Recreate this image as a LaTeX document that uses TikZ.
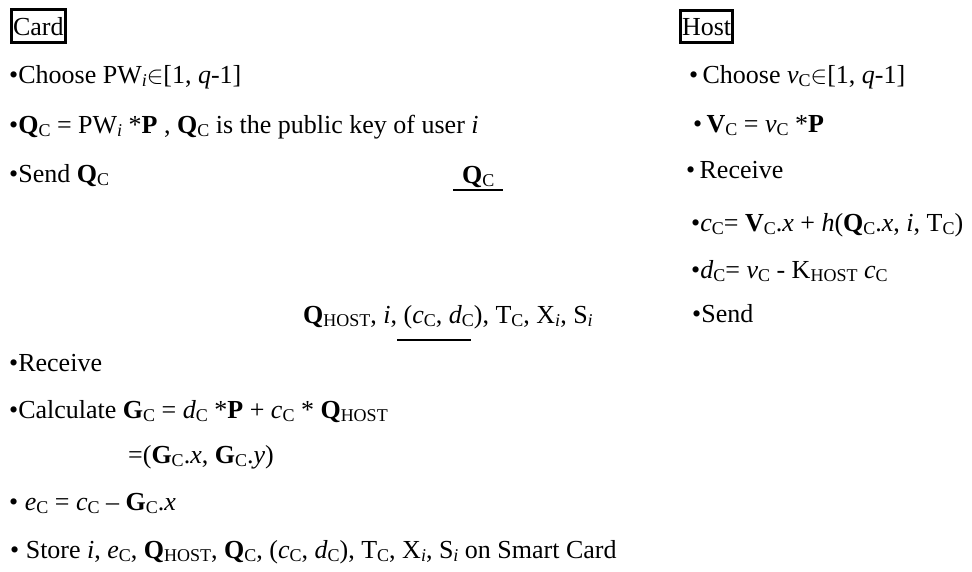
\documentclass[tikz,border=0pt]{standalone}
\usepackage{fontspec}
\setmainfont{Liberation Serif}
\usetikzlibrary{positioning}
\newcommand{\sbs}[1]{\raisebox{-0.12em}{\fontsize{18}{20}\selectfont #1}}
\tikzset{
  party/.style={draw,line width=3pt,inner xsep=1.5pt,inner ysep=7pt,anchor=base west},
  item/.style={inner sep=0pt,anchor=base west},
  msgline/.style={draw,line width=1.8pt}
}
\begin{document}
\begin{tikzpicture}[x=1pt,y=-1pt,font=\fontsize{26}{30}\selectfont]
  \useasboundingbox (0,0) rectangle (972,571);
  \node[party] (card) at (10,35) {Card};
  \node[party] (host) at (679,35) {Host};

  \node[item] (c1) at (9,83) {•Choose PW\sbs{\textit{i}}$\in$[1, \textit{q}-1]};
  \node[item] (c2) at (9,133) {•\textbf{Q}\sbs{C} = PW\sbs{\textit{i}} *\textbf{P} , \textbf{Q}\sbs{C} is the public key of user \textit{i}};
  \node[item] (c3) at (9,182) {•Send \textbf{Q}\sbs{C}};

  \node[item] (m1) at (462,183) {\textbf{Q}\sbs{C}};
  \coordinate (m1a) at (453,190);
  \coordinate (m1b) at (503,190);

  \node[item] (h1) at (689,83) {•\,Choose \textit{v}\sbs{C}$\in$[1, \textit{q}-1]};
  \node[item] (h2) at (693,132) {•\,\textbf{V}\sbs{C} = \textit{v}\sbs{C} *\textbf{P}};
  \node[item] (h3) at (686,178) {•\,Receive};
  \node[item] (h4) at (691,231) {•\textit{c}\sbs{C}= \textbf{V}\sbs{C}.\textit{x} + \textit{h}(\textbf{Q}\sbs{C}.\textit{x}, \textit{i}, T\sbs{C})};
  \node[item] (h5) at (691,278) {•\textit{d}\sbs{C}= \textit{v}\sbs{C} - K\sbs{HOST} \textit{c}\sbs{C}};
  \node[item] (h6) at (692,322) {•Send};

  \node[item] (m2) at (303,323) {\textbf{Q}\sbs{HOST}, \textit{i}, (\textit{c}\sbs{C}, \textit{d}\sbs{C}), T\sbs{C}, X\sbs{\textit{i}}, S\sbs{\textit{i}}};
  \coordinate (m2a) at (397,340);
  \coordinate (m2b) at (471,340);

  \node[item] (c4) at (9,371) {•Receive};
  \node[item] (c5) at (9,418) {•Calculate \textbf{G}\sbs{C} = \textit{d}\sbs{C} *\textbf{P} + \textit{c}\sbs{C} * \textbf{Q}\sbs{HOST}};
  \node[item] (c6) at (128,463) {=(\textbf{G}\sbs{C}.\textit{x}, \textbf{G}\sbs{C}.\textit{y})};
  \node[item] (c7) at (9,510) {• \textit{e}\sbs{C} = \textit{c}\sbs{C} – \textbf{G}\sbs{C}.\textit{x}};
  \node[item] (c8) at (10,558) {• Store \textit{i}, \textit{e}\sbs{C}, \textbf{Q}\sbs{HOST}, \textbf{Q}\sbs{C}, (\textit{c}\sbs{C}, \textit{d}\sbs{C}), T\sbs{C}, X\sbs{\textit{i}}, S\sbs{\textit{i}} on Smart Card};

  \draw[msgline] (m1a) -- (m1b);
  \draw[msgline] (m2a) -- (m2b);
\end{tikzpicture}
\end{document}
